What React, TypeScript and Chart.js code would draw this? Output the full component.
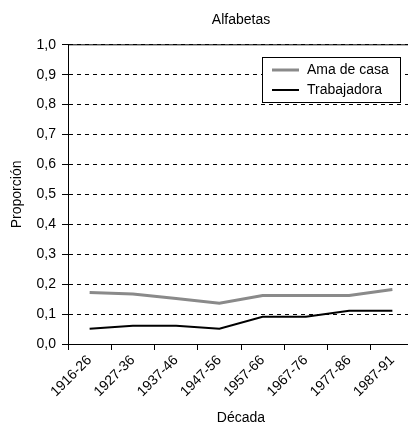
import React, { useEffect, useRef } from 'react';
import { Chart, registerables } from 'chart.js';

Chart.register(...registerables);

const decades = ['1916-26', '1927-36', '1937-46', '1947-56', '1957-66', '1967-76', '1977-86', '1987-91'];
const amaDeCasa = [0.172, 0.167, 0.152, 0.136, 0.162, 0.162, 0.162, 0.182];
const trabajadora = [0.051, 0.061, 0.061, 0.051, 0.091, 0.091, 0.111, 0.111];

const FONT = '"Liberation Sans", Arial, sans-serif';

// legend in a framed box + solid line on top of the plot
const boxLegend = {
	id: 'boxLegend',
	afterDraw(chart: any) {
		const { ctx, chartArea } = chart;
		ctx.save();
		ctx.strokeStyle = '#000';
		ctx.lineWidth = 1;
		ctx.setLineDash([]);
		ctx.beginPath();
		ctx.moveTo(chartArea.left, chartArea.top);
		ctx.lineTo(chartArea.right, chartArea.top);
		ctx.stroke();

		const x = Math.round(chartArea.right - 152);
		const y = Math.round(chartArea.top + 12);
		const w = 138;
		const h = 45;
		ctx.fillStyle = '#fff';
		ctx.fillRect(x, y, w, h);
		ctx.strokeRect(x + 0.5, y + 0.5, w, h);
		ctx.font = '14px ' + FONT;
		ctx.textBaseline = 'middle';
		chart.data.datasets.forEach((ds: any, i: number) => {
			const cy = y + 13 + i * 20;
			ctx.strokeStyle = ds.borderColor;
			ctx.lineWidth = ds.borderWidth;
			ctx.beginPath();
			ctx.moveTo(x + 10, cy);
			ctx.lineTo(x + 37, cy);
			ctx.stroke();
			ctx.fillStyle = '#000';
			ctx.fillText(ds.label, x + 45, cy);
		});
		ctx.restore();
	},
};

function AlfabetasChart() {
	const chartRef = useRef<HTMLCanvasElement>(null);

	useEffect(() => {
		document.body.style.margin = '0';
		const ctx = chartRef.current?.getContext('2d');
		if (!ctx) return;
		const chart = new Chart(ctx, {
			type: 'line',
			data: {
				labels: decades,
				datasets: [
					{
						label: 'Ama de casa',
						data: amaDeCasa,
						borderColor: '#8a8a8a',
						borderWidth: 3,
						pointRadius: 0,
						tension: 0,
					},
					{
						label: 'Trabajadora',
						data: trabajadora,
						borderColor: '#000',
						borderWidth: 2,
						pointRadius: 0,
						tension: 0,
					},
				],
			},
			options: {
				responsive: false,
				animation: false,
				color: '#000',
				font: { family: FONT, size: 14 },
				layout: { padding: { left: 0, right: 66, top: 0, bottom: 0 } },
				plugins: {
					legend: { display: false },
					tooltip: { enabled: false },
					title: {
						display: true,
						fullSize: false,
						text: 'Alfabetas',
						color: '#000',
						font: { family: FONT, size: 14, weight: 'normal' },
						padding: { top: 12, bottom: 16 },
					},
				},
				scales: {
					x: {
						offset: true,
						afterFit: (scale: any) => {
							scale.height = 83;
						},
						grid: { offset: true, drawOnChartArea: false, drawTicks: true, tickLength: 6, color: '#000' },
						border: { display: true, color: '#000', width: 1 },
						ticks: { color: '#000', font: { family: FONT, size: 14 }, maxRotation: 45, minRotation: 45, padding: 2 },
						title: { display: true, text: 'Década', color: '#000', font: { family: FONT, size: 14 }, padding: { top: 6, bottom: 0 } },
					},
					y: {
						min: 0,
						max: 1,
						afterFit: (scale: any) => {
							scale.width = 68;
						},
						grid: { color: '#000', lineWidth: 1, drawTicks: true, tickLength: 6 },
						border: { display: true, color: '#000', width: 1, dash: [4, 4] },
						ticks: {
							stepSize: 0.1,
							color: '#000',
							padding: 6,
							font: { family: FONT, size: 14 },
							callback: (v: any) => Number(v).toFixed(1).replace('.', ','),
						},
						title: { display: true, text: 'Proporción', color: '#000', font: { family: FONT, size: 14 }, padding: { top: 9, bottom: 0 } },
					},
				},
			},
			plugins: [boxLegend],
		});

		return () => {
			chart.destroy();
		};
	});

	return (
		<div style={{ width: 408, height: 423, overflow: 'hidden', background: '#fff' }}>
			<canvas ref={chartRef} width={480} height={427} style={{ display: 'block', width: 480, height: 427 }} />
		</div>
	);
}

export default function App() {
	return <AlfabetasChart />;
}
